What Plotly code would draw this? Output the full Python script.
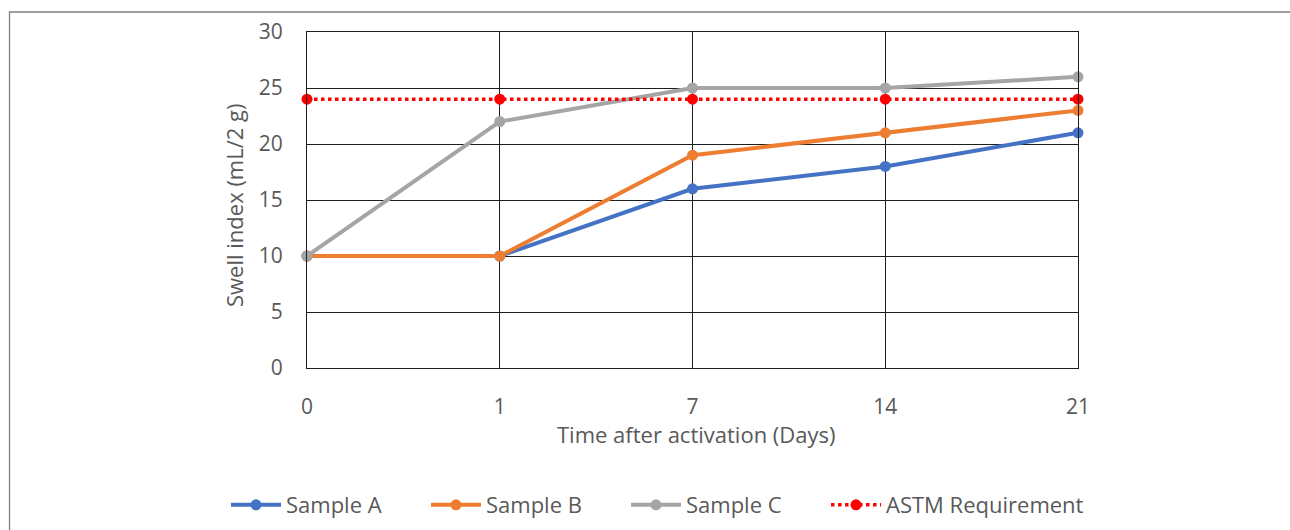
import plotly.graph_objects as go

days = ["0", "1", "7", "14", "21"]
sample_a = [10, 10, 16, 18, 21]
sample_b = [10, 10, 19, 21, 23]
sample_c = [10, 22, 25, 25, 26]
astm = [24, 24, 24, 24, 24]
y_ticks = [0, 5, 10, 15, 20, 25, 30]

FONT = "Open Sans"
GREY_TXT = "#595959"
GRID = "#1e1e1e"

fig = go.Figure()
series = [
    ("Sample A", sample_a, "#4472C4"),
    ("Sample B", sample_b, "#ED7D31"),
    ("Sample C", sample_c, "#A5A5A5"),
]
for name, vals, col in series:
    fig.add_trace(go.Scatter(
        x=days, y=vals, name=name, mode="lines+markers",
        line=dict(color=col, width=4),
        marker=dict(color=col, size=11),
        cliponaxis=False, legend="legend",
    ))
fig.add_trace(go.Scatter(
    x=days, y=astm, name="ASTM Requirement", mode="lines+markers",
    line=dict(color="#FF0000", width=3.5, dash="dot"),
    marker=dict(color="#FF0000", size=11),
    cliponaxis=False, legend="legend2",
))

W, H = 1290, 530
L, R, T, B = 307, 212, 32, 162
pw, ph = W - L - R, H - T - B

def px_x(p):
    return (p - L) / pw

def px_y(p):
    return (H - B - p) / ph

fig.add_shape(type="rect", xref="paper", yref="paper",
              x0=px_x(9.5), x1=px_x(1300), y0=px_y(12), y1=px_y(540),
              line=dict(color="#7F7F7F", width=1.3), fillcolor="rgba(0,0,0,0)",
              layer="below")

fig.add_annotation(text="Time after activation (Days)", xref="paper", yref="paper",
                   x=px_x(696), y=px_y(434), xanchor="center", yanchor="middle",
                   showarrow=False, font=dict(size=22, color=GREY_TXT, family=FONT))
fig.add_annotation(text="Swell index (mL/2 g)", xref="paper", yref="paper",
                   x=px_x(234), y=px_y(205), xanchor="center", yanchor="middle",
                   textangle=-90,
                   showarrow=False, font=dict(size=22, color=GREY_TXT, family=FONT))

legend_common = dict(orientation="h", yanchor="middle", y=px_y(505),
                     xanchor="left", font=dict(size=22, color=GREY_TXT),
                     itemwidth=50, tracegroupgap=0, traceorder="normal",
                     bgcolor="rgba(0,0,0,0)")

fig.update_layout(
    width=W, height=H,
    margin=dict(l=L, r=R, t=T, b=B, autoexpand=False),
    paper_bgcolor="white", plot_bgcolor="white",
    font=dict(family=FONT, color=GREY_TXT, size=21),
    showlegend=True,
    legend=dict(x=px_x(226), entrywidth=135, entrywidthmode="pixels", **legend_common),
    legend2=dict(x=px_x(826), **legend_common),
    xaxis=dict(
        type="category", range=[0, 4], automargin=False,
        showgrid=True, gridcolor=GRID, gridwidth=1,
        zeroline=False, showline=True, linecolor=GRID, linewidth=1, mirror=True,
        ticks="outside", ticklen=20, tickcolor="rgba(0,0,0,0)",
        tickfont=dict(size=21, color=GREY_TXT),
    ),
    yaxis=dict(
        range=[0, 30], tickvals=y_ticks, ticktext=[str(v) for v in y_ticks],
        automargin=False,
        showgrid=True, gridcolor=GRID, gridwidth=1,
        zeroline=False, showline=True, linecolor=GRID, linewidth=1, mirror=True,
        ticks="outside", ticklen=19, tickcolor="rgba(0,0,0,0)",
        tickfont=dict(size=21, color=GREY_TXT),
    ),
)

fig.write_html("out.html")
